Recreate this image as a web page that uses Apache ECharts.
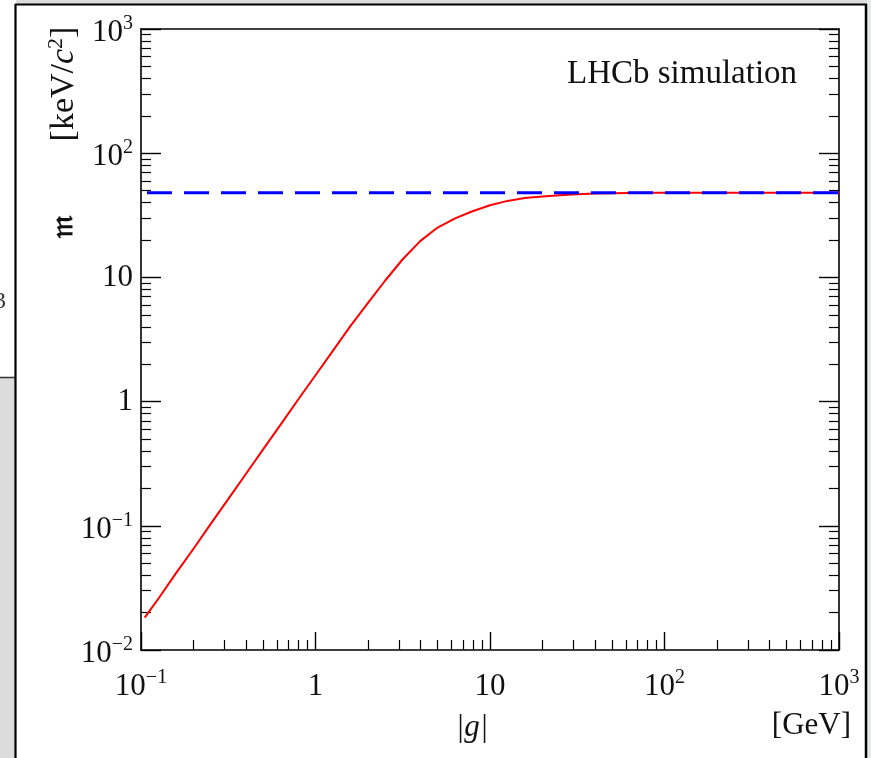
<!DOCTYPE html>
<html>
<head>
<meta charset="utf-8">
<script src="https://cdn.jsdelivr.net/npm/echarts@6/dist/echarts.min.js"></script>
<style>
html,body{margin:0;padding:0;background:#fff;}
#chart{width:871px;height:758px;}
</style>
</head>
<body>
<div id="chart"></div>
<script>
// ---- data ----
const gValues = [0.105, 0.126, 0.158, 0.2, 0.251, 0.316, 0.398, 0.501, 0.631, 0.794, 1, 1.26, 1.58, 2.0, 2.51, 3.16, 3.98, 5.01, 6.31, 7.94, 10, 12.6, 15.8, 20, 25.1, 31.6, 39.8, 50.1, 63.1, 79.4, 100, 200, 500, 1000];
const massValues = [0.0182, 0.026, 0.0412, 0.0653, 0.1035, 0.164, 0.26, 0.412, 0.653, 1.035, 1.63, 2.57, 4.03, 6.24, 9.44, 14.0, 19.6, 25.2, 29.9, 34.1, 38.1, 41.3, 43.6, 44.8, 45.8, 46.7, 47.3, 47.6, 47.9, 48.0, 48.0, 48.0, 48.0, 48.0];
const plateauG = [0.1, 1000];
const plateauMass = [48, 48];

const xMajorTicks = [0.1, 1, 10, 100, 1000];
const xTickLabels = [['10', '−1'], ['1', ''], ['10', ''], ['10', '2'], ['10', '3']];
const yMajorTicks = [0.01, 0.1, 1, 10, 100, 1000];
const yTickLabels = [['10', '−2'], ['10', '−1'], ['1', ''], ['10', ''], ['10', '2'], ['10', '3']];
const xMinorTicks = [0.2,0.3,0.4,0.5,0.6,0.7,0.8,0.9, 2,3,4,5,6,7,8,9, 20,30,40,50,60,70,80,90, 200,300,400,500,600,700,800,900];
const yMinorTicks = [0.02,0.03,0.04,0.05,0.06,0.07,0.08,0.09, 0.2,0.3,0.4,0.5,0.6,0.7,0.8,0.9, 2,3,4,5,6,7,8,9, 20,30,40,50,60,70,80,90, 200,300,400,500,600,700,800,900];

const titleText = 'LHCb simulation';
const xTitle = '|g|';
const xUnit = '[GeV]';
const ySymbol = '𝔪';

// ---- chart ----
const FONT = 'Liberation Serif';
const chart = echarts.init(document.getElementById('chart'), null, {renderer: 'canvas'});

function labelFor(ticks, labels, alwaysPad) {
  return function (v) {
    const e = Math.round(Math.log10(v));
    for (let i = 0; i < ticks.length; i++) {
      if (Math.round(Math.log10(ticks[i])) === e) {
        const l = labels[i];
        if (l[1]) return '{bb|' + l[0] + '}{s|' + l[1] + '}';
        return alwaysPad ? '{bb|' + l[0] + '}' : '{b|' + l[0] + '}';
      }
    }
    return '';
  };
}
const richLab = {
  b: {fontFamily: FONT, fontSize: 31, color: '#111'},
  bb: {fontFamily: FONT, fontSize: 31, color: '#111', padding: [8, 0, 0, 0]},
  s: {fontFamily: FONT, fontSize: 20, color: '#111', padding: [0, 0, 10, 0]}
};

const gridRect = {left: 141, top: 29, right: 32, bottom: 108};
const axisLine = {show: true, lineStyle: {color: '#000', width: 1.6}};

function baseAxis(extra) {
  return Object.assign({
    type: 'log', logBase: 10,
    splitLine: {show: false},
    minorTick: {show: false},
    axisLine: axisLine
  }, extra);
}

const option = {
  backgroundColor: '#ffffff',
  animation: false,
  grid: [
    Object.assign({}, gridRect),
    Object.assign({}, gridRect)
  ],
  xAxis: [
    baseAxis({gridIndex: 0, position: 'bottom', min: 0.1, max: 1000,
      axisTick: {show: true, inside: true, length: 18, lineStyle: {color: '#000', width: 1.4}, customValues: xMajorTicks},
      axisLabel: {show: true, margin: 13, customValues: xMajorTicks, formatter: labelFor(xMajorTicks, xTickLabels, true), rich: richLab}
    }),
    baseAxis({gridIndex: 0, position: 'top', min: 0.1, max: 1000,
      axisTick: {show: false}, axisLabel: {show: false}
    }),
    baseAxis({gridIndex: 1, position: 'bottom', min: 0.1, max: 1000,
      axisLine: {show: false},
      axisTick: {show: true, inside: true, length: 10, lineStyle: {color: '#000', width: 1.2}, customValues: xMinorTicks},
      axisLabel: {show: false}
    })
  ],
  yAxis: [
    baseAxis({gridIndex: 0, position: 'left', min: 0.01, max: 1000,
      axisTick: {show: true, inside: true, length: 20, lineStyle: {color: '#000', width: 1.4}, customValues: yMajorTicks},
      axisLabel: {show: true, margin: 8, customValues: yMajorTicks, formatter: labelFor(yMajorTicks, yTickLabels, false), rich: richLab}
    }),
    baseAxis({gridIndex: 0, position: 'right', min: 0.01, max: 1000,
      axisTick: {show: true, inside: true, length: 20, lineStyle: {color: '#000', width: 1.4}, customValues: yMajorTicks},
      axisLabel: {show: false}
    }),
    baseAxis({gridIndex: 1, position: 'left', min: 0.01, max: 1000,
      axisLine: {show: false},
      axisTick: {show: true, inside: true, length: 10, lineStyle: {color: '#000', width: 1.2}, customValues: yMinorTicks},
      axisLabel: {show: false}
    }),
    baseAxis({gridIndex: 1, position: 'right', min: 0.01, max: 1000,
      axisLine: {show: false},
      axisTick: {show: true, inside: true, length: 10, lineStyle: {color: '#000', width: 1.2}, customValues: yMinorTicks},
      axisLabel: {show: false}
    })
  ],
  series: [
    {
      type: 'line', xAxisIndex: 0, yAxisIndex: 0,
      data: gValues.map((g, i) => [g, massValues[i]]),
      showSymbol: false, smooth: false,
      lineStyle: {color: '#ff0000', width: 2, join: 'round'},
      z: 3
    },
    {
      type: 'line', xAxisIndex: 0, yAxisIndex: 0,
      data: plateauG.map((g, i) => [g, plateauMass[i]]),
      showSymbol: false,
      lineStyle: {color: '#0000ff', width: 3, type: [25, 12], dashOffset: -6},
      z: 4
    }
  ],
  graphic: [
    // surrounding screenshot artefacts
    {type: 'rect', shape: {x: 16, y: 0, width: 871, height: 4}, style: {fill: '#dcdcdc'}, silent: true, z: -10},
    {type: 'rect', shape: {x: 0, y: 378, width: 15, height: 380}, style: {fill: '#dcdcdc'}, silent: true, z: -10},
    {type: 'rect', shape: {x: 867, y: 0, width: 10, height: 758}, style: {fill: '#e6e9e4'}, silent: true, z: -10},
    {type: 'line', shape: {x1: 0, y1: 377.5, x2: 15, y2: 377.5}, style: {stroke: '#333', lineWidth: 1.5}, silent: true},
    {type: 'line', shape: {x1: 15.5, y1: 4, x2: 15.5, y2: 758}, style: {stroke: '#000', lineWidth: 2.2}, silent: true},
    {type: 'line', shape: {x1: 15, y1: 4.5, x2: 867, y2: 4.5}, style: {stroke: '#000', lineWidth: 2.2}, silent: true},
    {type: 'line', shape: {x1: 866, y1: 4, x2: 866, y2: 758}, style: {stroke: '#000', lineWidth: 2.5}, silent: true},
    {type: 'text', left: -6, top: 290, style: {text: '3', font: '24px "Liberation Serif"', fill: '#333'}, silent: true},
    // texts
    {type: 'text', left: 567, top: 58, style: {text: titleText, font: '33px "Liberation Serif"', fill: '#111'}},
    {type: 'text', x: 472, y: 728, style: {text: xTitle, font: 'italic 31px "Liberation Serif"', fill: '#111', align: 'center', verticalAlign: 'middle'}},
    {type: 'text', x: 851, y: 726, style: {text: xUnit, font: '31px "Liberation Serif"', fill: '#111', align: 'right', verticalAlign: 'middle'}},
    {type: 'text', x: 64, y: 84, rotation: Math.PI / 2,
      style: {text: '{n|[keV/}{i|c}{s|2}{n|]}', align: 'center', verticalAlign: 'middle',
        rich: {
          n: {fontFamily: FONT, fontSize: 34, fill: '#111'},
          i: {fontFamily: FONT, fontStyle: 'italic', fontSize: 34, fill: '#111'},
          s: {fontFamily: FONT, fontSize: 22, fill: '#111', padding: [0, 0, 16, 0]}
        }}},
    {type: 'text', x: 64, y: 226, rotation: Math.PI / 2,
      style: {text: ySymbol, font: 'bold 30px "DejaVu Serif"', fill: '#111', align: 'center', verticalAlign: 'middle'}}
  ]
};
chart.setOption(option);
</script>
</body>
</html>
